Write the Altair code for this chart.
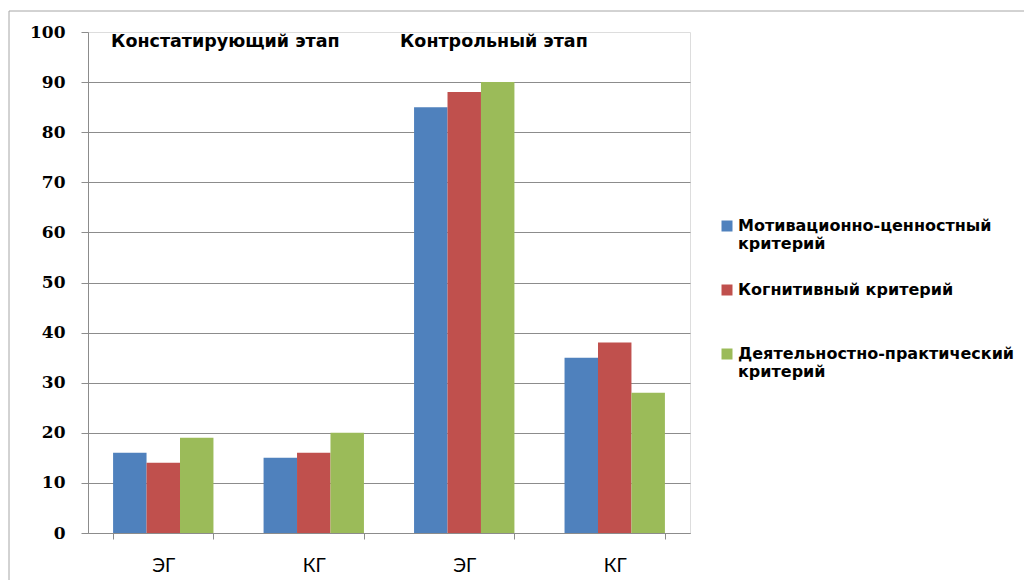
import altair as alt
import pandas as pd

groups = ["ЭГ1", "КГ1", "ЭГ2", "КГ2"]
series = ["Мотивационно-ценностный|критерий", "Когнитивный критерий", "Деятельностно-практический|критерий"]
motiv = [16, 15, 85, 35]
cogn = [14, 16, 88, 38]
activ = [19, 20, 90, 28]
colors = ["#4F81BD", "#C0504D", "#9BBB59"]
stage_titles = ["Констатирующий этап", "Контрольный этап"]
stage_groups = ["ЭГ1", "ЭГ2"]
stage_y = [98, 98]

rows = []
for s, vals in zip(series, [motiv, cogn, activ]):
    for g, v in zip(groups, vals):
        rows.append({"group": g, "series": s, "value": v})
df = pd.DataFrame(rows)
ann = pd.DataFrame({"group": stage_groups, "text": stage_titles, "y": stage_y})

SANS = "DejaVu Sans"
GRID = "#8c8c8c"

xscale = alt.Scale(domain=groups, paddingInner=0.333, paddingOuter=0.1667)
yscale = alt.Scale(domain=[0, 100], nice=False)

bars = alt.Chart(df).mark_bar().encode(
    x=alt.X("group:N", scale=xscale, title=None,
            axis=alt.Axis(labelExpr="slice(datum.label, 0, 2)", labelAngle=0, tickBand="extent",
                          tickSize=6, labelPadding=17, labelFontSize=19,
                          labelFont="Lato",
                          labelColor="#000", domainColor=GRID, tickColor=GRID, grid=False)),
    xOffset=alt.XOffset("series:N", sort=series, scale=alt.Scale(domain=series, paddingInner=0, paddingOuter=0)),
    y=alt.Y("value:Q", scale=yscale, title=None,
            axis=alt.Axis(values=list(range(0, 101, 10)), tickSize=7, labelPadding=16,
                          labelFontSize=17, labelFont="DejaVu Serif", labelFontWeight="bold", labelColor="#000",
                          domainColor=GRID, tickColor=GRID, gridColor=GRID,
                          gridOpacity={"condition": {"test": "datum.value == 100", "value": 0}, "value": 1})),
    color=alt.Color("series:N", sort=series, scale=alt.Scale(domain=series, range=colors), title=None,
                    legend=alt.Legend(orient="none", legendX=631, legendY=186, labelExpr="split(datum.label, '|')",
                                      labelFont=SANS, labelFontWeight="bold", labelFontSize=16,
                                      labelColor="#000", labelLimit=400, gridAlign="all",
                                      labelOffset=3, symbolType="square", symbolSize=121,
                                      symbolStrokeWidth=0, rowPadding=30, padding=0, labelBaseline="middle")),
)

text1 = alt.Chart(ann.iloc[[0]]).mark_text(align="left", baseline="middle", dx=-2, font=SANS, fontWeight="bold",
                                           fontSize=17.5, color="#000").encode(
    x=alt.X("group:N", scale=xscale, bandPosition=0),
    y=alt.Y("y:Q", scale=yscale),
    text="text:N",
)
text2 = alt.Chart(ann.iloc[[1]]).mark_text(align="left", baseline="middle", dx=-14, font=SANS, fontWeight="bold",
                                           fontSize=17.5, color="#000").encode(
    x=alt.X("group:N", scale=xscale, bandPosition=0),
    y=alt.Y("y:Q", scale=yscale),
    text="text:N",
)

frame = alt.Chart(ann.iloc[[0]]).mark_rect(fillOpacity=0, stroke="#a6a6a6", strokeWidth=1).encode(
    x=alt.value(-79), x2=alt.value(960), y=alt.value(-21), y2=alt.value(580),
)

chart = alt.layer(frame, bars, text1, text2).properties(
    width=602, height=501, autosize="none",
    padding={"left": 80, "top": 24, "right": 334, "bottom": 47},
).configure_view(stroke=None).configure(background="white")

chart.save("out.html", embed_options={"renderer": "svg", "actions": False})
